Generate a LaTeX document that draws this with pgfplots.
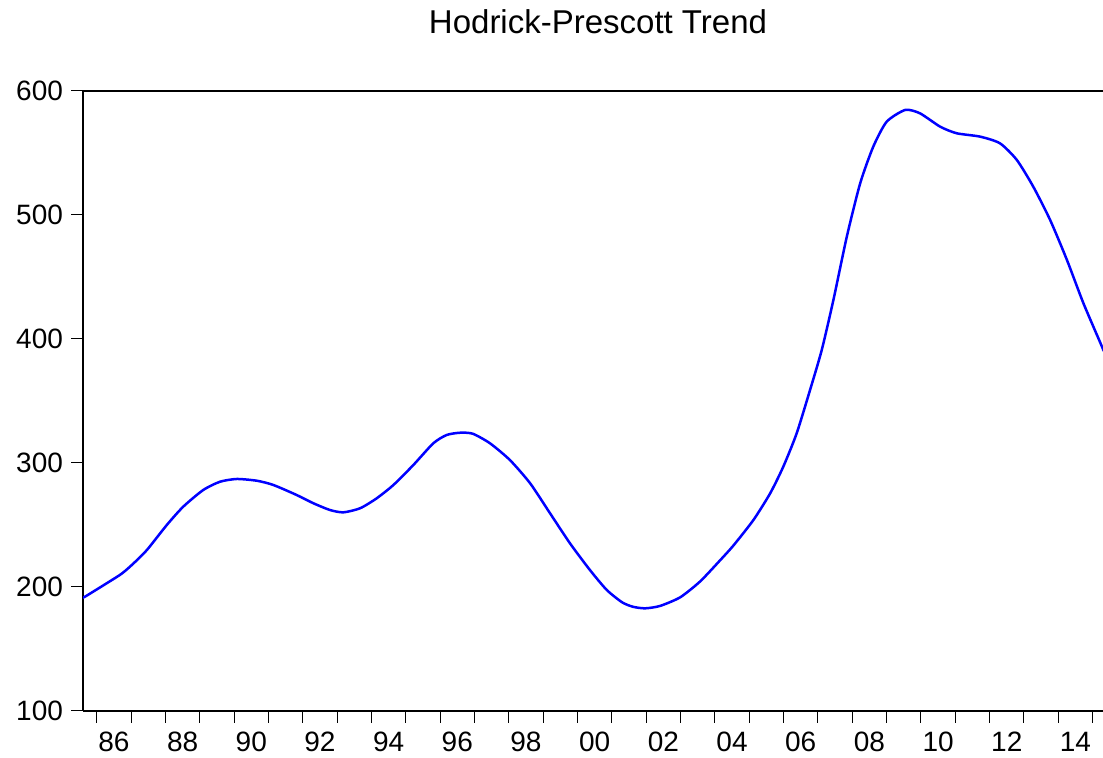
\documentclass[border=0pt]{standalone}
\usepackage{fontspec}
\setmainfont{Liberation Sans}
\usepackage{pgfplots}
\pgfplotsset{compat=1.18}
\definecolor{evblue}{RGB}{0,0,255}
\begin{document}
\begin{tikzpicture}
\begin{axis}[
  scale only axis,
  width=510pt, height=310pt,
  xmin=1985.6, xmax=2015.3,
  ymin=100, ymax=600,
  axis y line*=left,
  axis x line=box,
  xtick pos=bottom, ytick pos=left,
  xtick={1986,...,2015},
  x tick label as interval,
  xticklabels={86,,88,,90,,92,,94,,96,,98,,00,,02,,04,,06,,08,,10,,12,,14},
  ytick={100,200,...,600},
  tick align=outside,
  major tick length=6pt,
  every tick/.style={black, line width=0.5pt},
  axis line style={black, line width=0.8pt},
  /pgf/number format/assume math mode=true,
  tick label style={font=\fontsize{14}{16}\selectfont},
  yticklabel style={xshift=-0.5pt},
  xticklabel style={yshift=-1pt},
  title={Hodrick-Prescott Trend},
  title style={font=\fontsize{16.5}{18}\selectfont, at={(0.5,1)}, anchor=base, yshift=22.5pt, xshift=2.5pt},
  clip=true,
]
\addplot[evblue, line width=1.25pt, smooth, tension=0.4] coordinates {
(1985.60,191.5)
(1985.66,192.2)
(1986.29,203.0)
(1986.73,210.8)
(1987.07,219.0)
(1987.46,229.8)
(1988.04,250.0)
(1988.52,264.8)
(1989.10,278.2)
(1989.59,284.9)
(1990.08,287.1)
(1990.66,285.7)
(1991.14,282.3)
(1991.82,274.2)
(1992.31,267.5)
(1992.79,262.1)
(1993.18,260.2)
(1993.67,263.5)
(1994.15,271.5)
(1994.64,282.3)
(1995.22,298.4)
(1995.80,315.9)
(1996.19,322.6)
(1996.58,324.4)
(1996.95,323.6)
(1997.45,315.9)
(1998.03,302.4)
(1998.62,283.6)
(1999.20,259.4)
(1999.78,235.2)
(2000.36,213.7)
(2000.85,197.6)
(2001.30,187.6)
(2001.62,184.0)
(2001.97,182.8)
(2002.40,184.7)
(2002.99,191.7)
(2003.57,204.5)
(2004.15,221.5)
(2004.54,233.5)
(2005.12,254.0)
(2005.61,275.6)
(2005.99,297.0)
(2006.38,323.9)
(2006.77,358.9)
(2007.11,391.1)
(2007.45,431.5)
(2007.84,482.5)
(2008.23,525.6)
(2008.61,555.1)
(2009.00,575.2)
(2009.54,584.7)
(2009.97,582.0)
(2010.56,571.2)
(2011.04,565.9)
(2011.72,563.2)
(2012.30,557.8)
(2012.79,544.4)
(2013.27,522.8)
(2013.76,496.0)
(2014.25,463.7)
(2014.73,428.8)
(2015.27,393.8)
(2015.30,391.0)
};
\coordinate (ll) at (rel axis cs:0,0);
\coordinate (ur) at (rel axis cs:1,1);
\end{axis}
\pgfresetboundingbox
\path ([xshift=-41.5pt,yshift=-23.5pt]ll) rectangle ([yshift=45.5pt]ur);
\end{tikzpicture}
\end{document}
